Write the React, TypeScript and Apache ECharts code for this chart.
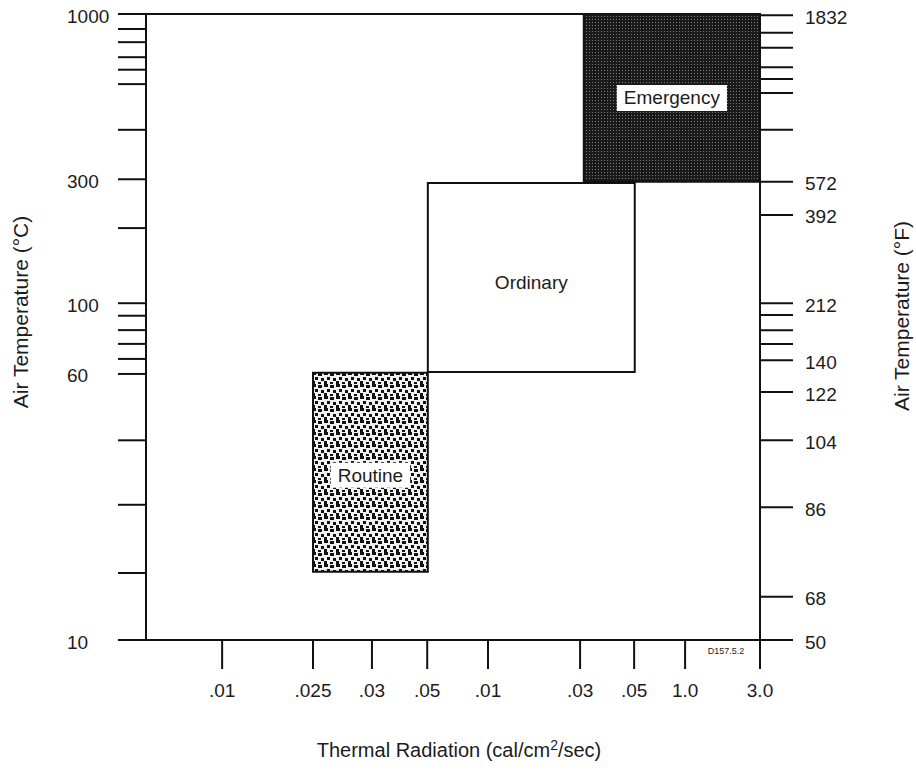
import React, { useEffect, useRef } from "react";
import * as echarts from "echarts";

// Schematic axis positions (0 = bottom/left edge of plot, 100 = top/right edge)
const leftTickLabels = ["10", "60", "100", "300", "1000"];
const leftTickPos = [0, 42.5, 53.8, 73.6, 100];
const leftMinorPos = [10.7, 21.6, 31.9, 44.9, 47.3, 49.5, 51.8, 65.8, 81.5, 88.8, 91.1, 93.1, 95.5, 97.6];

const rightTickLabels = ["50", "68", "86", "104", "122", "140", "212", "392", "572", "1832"];
const rightTickPos = [0, 6.9, 21.2, 31.9, 39.6, 44.7, 53.8, 67.9, 73.2, 99.8];
const rightMinorPos = [47.3, 49.5, 51.9, 81.5, 87.4, 89.6, 91.5, 94.6, 97.0];

const xTickLabels = [".01", ".025", ".03", ".05", ".01", ".03", ".05", "1.0", "3.0"];
const xTickPos = [12.4, 27.2, 36.8, 45.8, 55.7, 70.7, 79.5, 87.8, 100];

const zoneNames = ["Ordinary", "Routine", "Emergency"];
const zoneXStart = [45.9, 27.2, 71.3];
const zoneXEnd = [79.6, 45.9, 100];
const zoneYStart = [42.8, 10.9, 73.2];
const zoneYEnd = [73.0, 42.7, 100];

const FONT = '"Liberation Sans", Arial, Helvetica, sans-serif';
const INK = "#1c1c1c";

function makeRoutinePattern() {
  const c = document.createElement("canvas");
  c.width = 12;
  c.height = 12;
  const g = c.getContext("2d")!;
  g.fillStyle = "#f2f2f2";
  g.fillRect(0, 0, 12, 12);
  g.fillStyle = "#121212";
  const dots = [
    [0, 0, 4, 3],
    [6, 1, 4, 3],
    [3, 5, 3, 3],
    [9, 6, 3, 3],
    [0, 9, 3, 3],
    [6, 10, 3, 2],
  ];
  dots.forEach(([x, y, w, h]) => g.fillRect(x, y, w, h));
  return c;
}

function makeEmergencyPattern() {
  const c = document.createElement("canvas");
  c.width = 3;
  c.height = 3;
  const g = c.getContext("2d")!;
  g.fillStyle = "#1a1a1a";
  g.fillRect(0, 0, 3, 3);
  g.fillStyle = "#7a7a7a";
  g.fillRect(1, 1, 1, 1);
  return c;
}

export default function App() {
  const ref = useRef<HTMLDivElement>(null);

  useEffect(() => {
    if (!ref.current) return;
    const chart = echarts.init(ref.current, undefined, { renderer: "svg" });
    const routineFill = { image: makeRoutinePattern(), repeat: "repeat" };
    const emergencyFill = { image: makeEmergencyPattern(), repeat: "repeat" };

    const leftAll = [...leftTickPos, ...leftMinorPos];
    const rightAll = [...rightTickPos, ...rightMinorPos];

    const textStyle = (text: string, extra: any = {}) => ({
      text,
      font: `19px ${FONT}`,
      fill: INK,
      ...extra,
    });

    const option: any = {
      animation: false,
      backgroundColor: "#ffffff",
      grid: {
        left: 146,
        right: 156,
        top: 14,
        bottom: 130,
        show: true,
        borderColor: "#111",
        borderWidth: 2,
        backgroundColor: "transparent",
      },
      xAxis: { type: "value", min: 0, max: 100, show: false },
      yAxis: { type: "value", min: 0, max: 100, show: false },
      series: [
        {
          type: "custom",
          name: "zones",
          clip: false,
          z: 3,
          data: zoneNames.map((_, i) => [zoneXStart[i], zoneXEnd[i], zoneYStart[i], zoneYEnd[i]]),
          encode: { x: [0, 1], y: [2, 3] },
          renderItem: (params: any, api: any) => {
            const i = params.dataIndex;
            const name = zoneNames[i];
            const p0 = api.coord([api.value(0), api.value(3)]);
            const p1 = api.coord([api.value(1), api.value(2)]);
            const x = p0[0];
            const y = p0[1];
            const w = p1[0] - p0[0];
            const h = p1[1] - p0[1];
            const fill = name === "Routine" ? routineFill : name === "Emergency" ? emergencyFill : "#ffffff";
            const boxed = name !== "Ordinary";
            const dy = name === "Ordinary" ? 5 : name === "Routine" ? 3 : 0;
            return {
              type: "group",
              children: [
                {
                  type: "rect",
                  shape: { x, y, width: w, height: h },
                  style: { fill, stroke: "#111", lineWidth: 2 },
                },
                {
                  type: "text",
                  x: x + w / 2,
                  y: y + h / 2 + dy,
                  style: textStyle(name, {
                    align: "center",
                    verticalAlign: "middle",
                    backgroundColor: boxed ? "#ffffff" : undefined,
                    padding: boxed ? (name === "Emergency" ? [4, 7, 3, 7] : [3, 7, 3, 7]) : 0,
                  }),
                },
              ],
            };
          },
        },
        {
          type: "custom",
          name: "leftTicks",
          clip: false,
          z: 4,
          data: leftAll.map((p) => [0, p]),
          encode: { x: 0, y: 1 },
          renderItem: (params: any, api: any) => {
            const i = params.dataIndex;
            const pt = api.coord([api.value(0), api.value(1)]);
            const children: any[] = [
              {
                type: "line",
                shape: { x1: pt[0] - 28, y1: pt[1], x2: pt[0], y2: pt[1] },
                style: { stroke: "#111", lineWidth: 2 },
              },
            ];
            if (i < leftTickLabels.length) {
              children.push({
                type: "text",
                x: pt[0] - 79,
                y: pt[1] + 2,
                style: textStyle(leftTickLabels[i], { align: "left", verticalAlign: "middle" }),
              });
            }
            return { type: "group", children };
          },
        },
        {
          type: "custom",
          name: "rightTicks",
          clip: false,
          z: 4,
          data: rightAll.map((p) => [100, p]),
          encode: { x: 0, y: 1 },
          renderItem: (params: any, api: any) => {
            const i = params.dataIndex;
            const pt = api.coord([api.value(0), api.value(1)]);
            const children: any[] = [
              {
                type: "line",
                shape: { x1: pt[0], y1: pt[1], x2: pt[0] + 33, y2: pt[1] },
                style: { stroke: "#111", lineWidth: 2 },
              },
            ];
            if (i < rightTickLabels.length) {
              children.push({
                type: "text",
                x: pt[0] + 45,
                y: pt[1] + 2,
                style: textStyle(rightTickLabels[i], { align: "left", verticalAlign: "middle" }),
              });
            }
            return { type: "group", children };
          },
        },
        {
          type: "custom",
          name: "xTicks",
          clip: false,
          z: 4,
          data: xTickPos.map((p) => [p, 0]),
          encode: { x: 0, y: 1 },
          renderItem: (params: any, api: any) => {
            const i = params.dataIndex;
            const pt = api.coord([api.value(0), api.value(1)]);
            return {
              type: "group",
              children: [
                {
                  type: "line",
                  shape: { x1: pt[0], y1: pt[1], x2: pt[0], y2: pt[1] + 29 },
                  style: { stroke: "#111", lineWidth: 2 },
                },
                {
                  type: "text",
                  x: pt[0],
                  y: pt[1] + 50,
                  style: textStyle(xTickLabels[i], { align: "center", verticalAlign: "middle" }),
                },
              ],
            };
          },
        },
      ],
      graphic: [
        {
          type: "text",
          x: 20,
          y: 312,
          rotation: Math.PI / 2,
          style: {
            text: "Air Temperature (°C)",
            font: `21px ${FONT}`,
            fill: INK,
            align: "center",
            verticalAlign: "middle",
          },
        },
        {
          type: "text",
          x: 901,
          y: 316,
          rotation: Math.PI / 2,
          style: {
            text: "Air Temperature (°F)",
            font: `21px ${FONT}`,
            fill: INK,
            align: "center",
            verticalAlign: "middle",
          },
        },
        {
          type: "text",
          x: 459,
          y: 750,
          style: {
            text: "Thermal Radiation (cal/cm{sup|2}/sec)",
            font: `20px ${FONT}`,
            fill: INK,
            align: "center",
            verticalAlign: "middle",
            rich: {
              sup: { font: `14px ${FONT}`, fill: INK, verticalAlign: "top", padding: [0, 0, 10, 0] },
            },
          },
        },
        {
          type: "text",
          x: 726,
          y: 651,
          style: {
            text: "D157.5.2",
            font: `9px ${FONT}`,
            fill: INK,
            align: "center",
            verticalAlign: "middle",
          },
        },
      ],
    };

    chart.setOption(option);
    return () => chart.dispose();
  }, []);

  return (
    <div
      ref={ref}
      style={{ position: "absolute", left: 0, top: 0, width: 916, height: 770, background: "#fff" }}
    />
  );
}
